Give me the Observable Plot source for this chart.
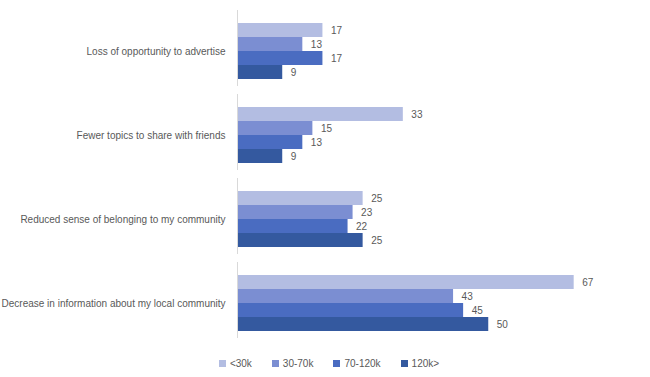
<!DOCTYPE html>
<html>
<head>
<meta charset="utf-8">
<script src="https://cdn.jsdelivr.net/npm/d3@7"></script>
<script src="https://cdn.jsdelivr.net/npm/@observablehq/plot@0.6"></script>
<style>
  html, body { margin: 0; padding: 0; background: #fff; }
  body { width: 650px; height: 377px; overflow: hidden; font-family: "Liberation Sans", Arial, sans-serif; }
  #legend { display: flex; justify-content: center; gap: 20px; font-size: 10px; color: #595959; margin-left: 8px; height: 27px; align-items: center; }
  #legend span.item { display: inline-flex; align-items: center; }
  #legend span.sw { display: inline-block; width: 7px; height: 7px; margin-right: 4px; }
</style>
</head>
<body>
<div id="chart"></div>
<div id="legend"></div>
<script>
const categories = [
  "Loss of opportunity to advertise",
  "Fewer topics to share with friends",
  "Reduced sense of belonging to my community",
  "Decrease in information about my local community"
];
const series = ["<30k", "30-70k", "70-120k", "120k>"];
const colors = ["#b3bde2", "#7b8ed2", "#4a6cc1", "#34599f"];
const values = {
  "<30k":    [17, 33, 25, 67],
  "30-70k":  [13, 15, 23, 43],
  "70-120k": [17, 13, 22, 45],
  "120k>":   [9, 9, 25, 50]
};

const data = [];
categories.forEach((c, i) => {
  series.forEach(s => data.push({category: c, series: s, value: values[s][i]}));
});

const chart = Plot.plot({
  width: 650,
  height: 350,
  marginLeft: 237,
  marginRight: 11,
  marginTop: 22,
  marginBottom: 18,
  style: {fontFamily: "Liberation Sans, Arial, sans-serif", fontSize: "10px", color: "#595959", background: "#fff"},
  x: {domain: [0, 80], axis: null},
  y: {domain: series, axis: null, padding: 0},
  fy: {domain: categories, paddingInner: 0.31, paddingOuter: 0, label: null, tickSize: 0, tickPadding: 12},
  color: {domain: series, range: colors},
  marks: [
    Plot.barX(data, {fy: "category", y: "series", x: "value", fill: "series"}),
    Plot.text(data, {fy: "category", y: "series", x: "value", text: d => String(d.value), textAnchor: "start", dx: 8, fill: "#595959"}),
    Plot.ruleX([0], {stroke: "#d9d9d9", insetTop: -12, insetBottom: -6})
  ]
});
document.getElementById("chart").appendChild(chart);

const legend = document.getElementById("legend");
series.forEach((s, i) => {
  const item = document.createElement("span");
  item.className = "item";
  const sw = document.createElement("span");
  sw.className = "sw";
  sw.style.background = colors[i];
  item.appendChild(sw);
  item.appendChild(document.createTextNode(s));
  legend.appendChild(item);
});
</script>
</body>
</html>
